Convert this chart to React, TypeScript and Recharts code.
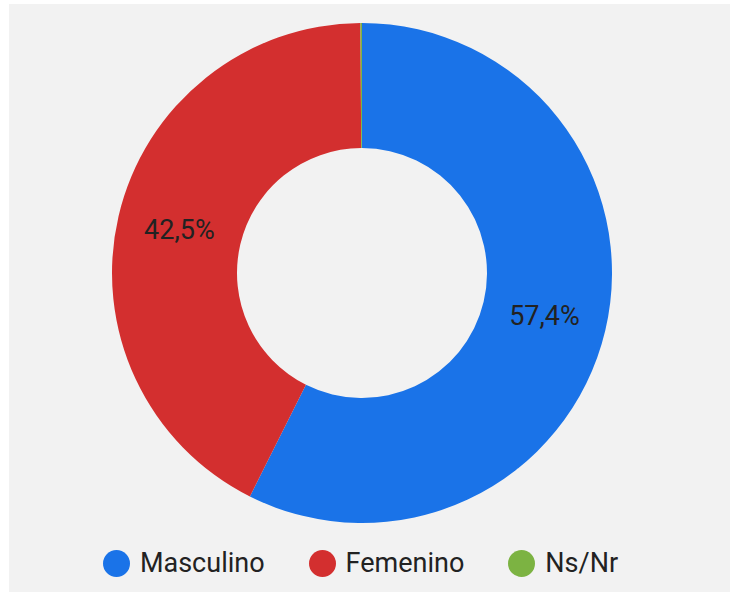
import React from 'react';
import { PieChart, Pie, Cell, Legend } from 'recharts';

const categories = ['Masculino', 'Femenino', 'Ns/Nr'];
const shares = [57.4, 42.5, 0.1];
const colors = ['#1a73e8', '#d32f2f', '#7cb342'];

const data = categories.map((name, i) => ({ name, value: shares[i] }));

const RADIAN = Math.PI / 180;

const fmt = (v: number) => v.toFixed(1).replace('.', ',') + '%';

const renderLabel = (props: any) => {
  const { cx, cy, midAngle, innerRadius, outerRadius, value } = props;
  if (value < 5) return null;
  const r = (innerRadius + outerRadius) / 2;
  const x = cx + r * Math.cos(-midAngle * RADIAN);
  const y = cy + r * Math.sin(-midAngle * RADIAN);
  return (
    <text
      x={x}
      y={y}
      fill="#222"
      fontSize={27}
      textAnchor="middle"
      dominantBaseline="central"
      fontFamily="Roboto"
    >
      {fmt(value)}
    </text>
  );
};

const renderLegend = () => (
  <div
    style={{
      display: 'flex',
      justifyContent: 'center',
      alignItems: 'center',
      fontFamily: 'Roboto',
      fontSize: 27,
      color: '#222',
      paddingRight: 18,
    }}
  >
    {categories.map((c, i) => (
      <div key={c} style={{ display: 'flex', alignItems: 'center', marginRight: i < categories.length - 1 ? 44 : 0 }}>
        <span
          style={{
            display: 'inline-block',
            width: 27,
            height: 27,
            borderRadius: '50%',
            background: colors[i],
            marginRight: 10,
          }}
        />
        <span>{c}</span>
      </div>
    ))}
  </div>
);

export default function App() {
  return (
    <div style={{ position: 'fixed', left: 9, top: 4, right: 0, bottom: 0, background: '#f2f2f2', overflow: 'hidden' }}>
      <PieChart width={721} height={588} margin={{ top: 0, right: 0, bottom: 0, left: 0 }}>
        <Pie
          data={data}
          dataKey="value"
          nameKey="name"
          cx={353}
          cy={269}
          innerRadius={125}
          outerRadius={250}
          startAngle={90}
          endAngle={-270}
          stroke="none"
          label={renderLabel}
          labelLine={false}
          isAnimationActive={false}
        >
          {data.map((d, i) => (
            <Cell key={d.name} fill={colors[i]} />
          ))}
        </Pie>
        <Legend
          content={renderLegend}
          verticalAlign="bottom"
          wrapperStyle={{ bottom: 13, left: 0, width: 721 }}
        />
      </PieChart>
    </div>
  );
}
